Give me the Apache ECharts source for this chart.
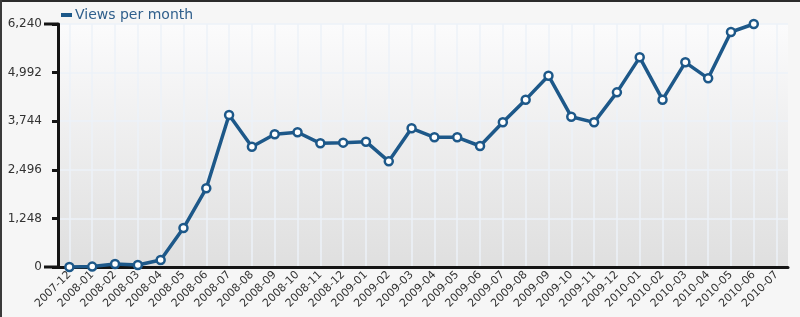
<!DOCTYPE html>
<html>
<head>
<meta charset="utf-8">
<script src="https://cdn.jsdelivr.net/npm/echarts@6/dist/echarts.min.js"></script>
<style>
html,body{margin:0;padding:0;background:#f6f6f6;}
#main{width:800px;height:317px;}
</style>
</head>
<body>
<div id="main"></div>
<script>
var categories = ['2007-12','2008-01','2008-02','2008-03','2008-04','2008-05','2008-06','2008-07','2008-08','2008-09','2008-10','2008-11','2008-12','2009-01','2009-02','2009-03','2009-04','2009-05','2009-06','2009-07','2009-08','2009-09','2009-10','2009-11','2009-12','2010-01','2010-02','2010-03','2010-04','2010-05','2010-06','2010-07'];
var seriesName = 'Views per month';
var views = [0,10,77,51,180,1001,2020,3903,3090,3407,3459,3176,3193,3218,2713,3561,3330,3330,3107,3715,4297,4913,3860,3715,4485,5384,4297,5256,4845,6034,6240,null];
var yMin = 0, yMax = 6240, yStep = 1248;

var FONT = 'DejaVu Sans';
var LINE = '#1d5889';
var chart = echarts.init(document.getElementById('main'));
chart.setOption({
  backgroundColor: '#f6f6f6',
  animation: false,
  textStyle: {fontFamily: FONT},
  legend: {
    left: 56, top: 3,
    icon: 'rect', itemWidth: 11, itemHeight: 4, itemGap: 10,
    itemStyle: {color: LINE, borderWidth: 0},
    textStyle: {fontFamily: FONT, fontSize: 14, color: '#2f5f8c', padding:[0,0,0,-2]},
    data: [seriesName]
  },
  grid: {
    left: 58, right: 12, top: 24, bottom: 50,
    show: true, borderWidth: 0,
    backgroundColor: {
      type: 'linear', x: 0, y: 0, x2: 0, y2: 1,
      colorStops: [{offset: 0, color: '#fbfbfc'}, {offset: 1, color: '#dfdfdf'}]
    }
  },
  xAxis: {
    type: 'category',
    data: categories,
    boundaryGap: true,
    axisLine: {lineStyle: {color: '#141414', width: 3}},
    axisTick: {alignWithLabel: true, length: 6, lineStyle: {color: '#141414', width: 3}},
    splitLine: {show: true, alignWithLabel: true, lineStyle: {color: '#edf2f9', width: 1.5}},
    axisLabel: {rotate: 45, fontSize: 11, color: '#333', margin: 6, interval: 0, fontFamily: FONT}
  },
  yAxis: {
    type: 'value',
    min: yMin, max: yMax, interval: yStep,
    axisLine: {show: true, lineStyle: {color: '#141414', width: 3}},
    axisTick: {show: true, length: 6, lineStyle: {color: '#141414', width: 3}},
    splitLine: {show: true, lineStyle: {color: '#edf2f9', width: 1.5}},
    axisLabel: {
      fontSize: 12, color: '#333', margin: 16, fontFamily: FONT,
      formatter: function (v) { return v.toLocaleString('en-US'); }
    }
  },
  series: [{
    name: seriesName,
    type: 'line',
    data: views,
    symbol: 'circle',
    symbolSize: 8,
    showAllSymbol: true,
    lineStyle: {color: LINE, width: 3.5},
    itemStyle: {color: '#ffffff', borderColor: LINE, borderWidth: 2.5},
    color: LINE
  }]
});
var yTop = chart.convertToPixel({yAxisIndex: 0}, yMax);
var yBot = chart.convertToPixel({yAxisIndex: 0}, yMin);
chart.setOption({
  graphic: [
    {type:'rect', shape:{x:0,y:0,width:800,height:2}, style:{fill:'#2b2b2b'}, z:100},
    {type:'rect', shape:{x:0,y:0,width:2,height:317}, style:{fill:'#3a3a3a'}, z:100},
    {type:'line', shape:{x1:44,y1:yTop,x2:58,y2:yTop}, style:{stroke:'#141414', lineWidth:3}, z:100},
    {type:'line', shape:{x1:44,y1:yBot,x2:58,y2:yBot}, style:{stroke:'#141414', lineWidth:3}, z:100}
  ]
});
</script>
</body>
</html>
